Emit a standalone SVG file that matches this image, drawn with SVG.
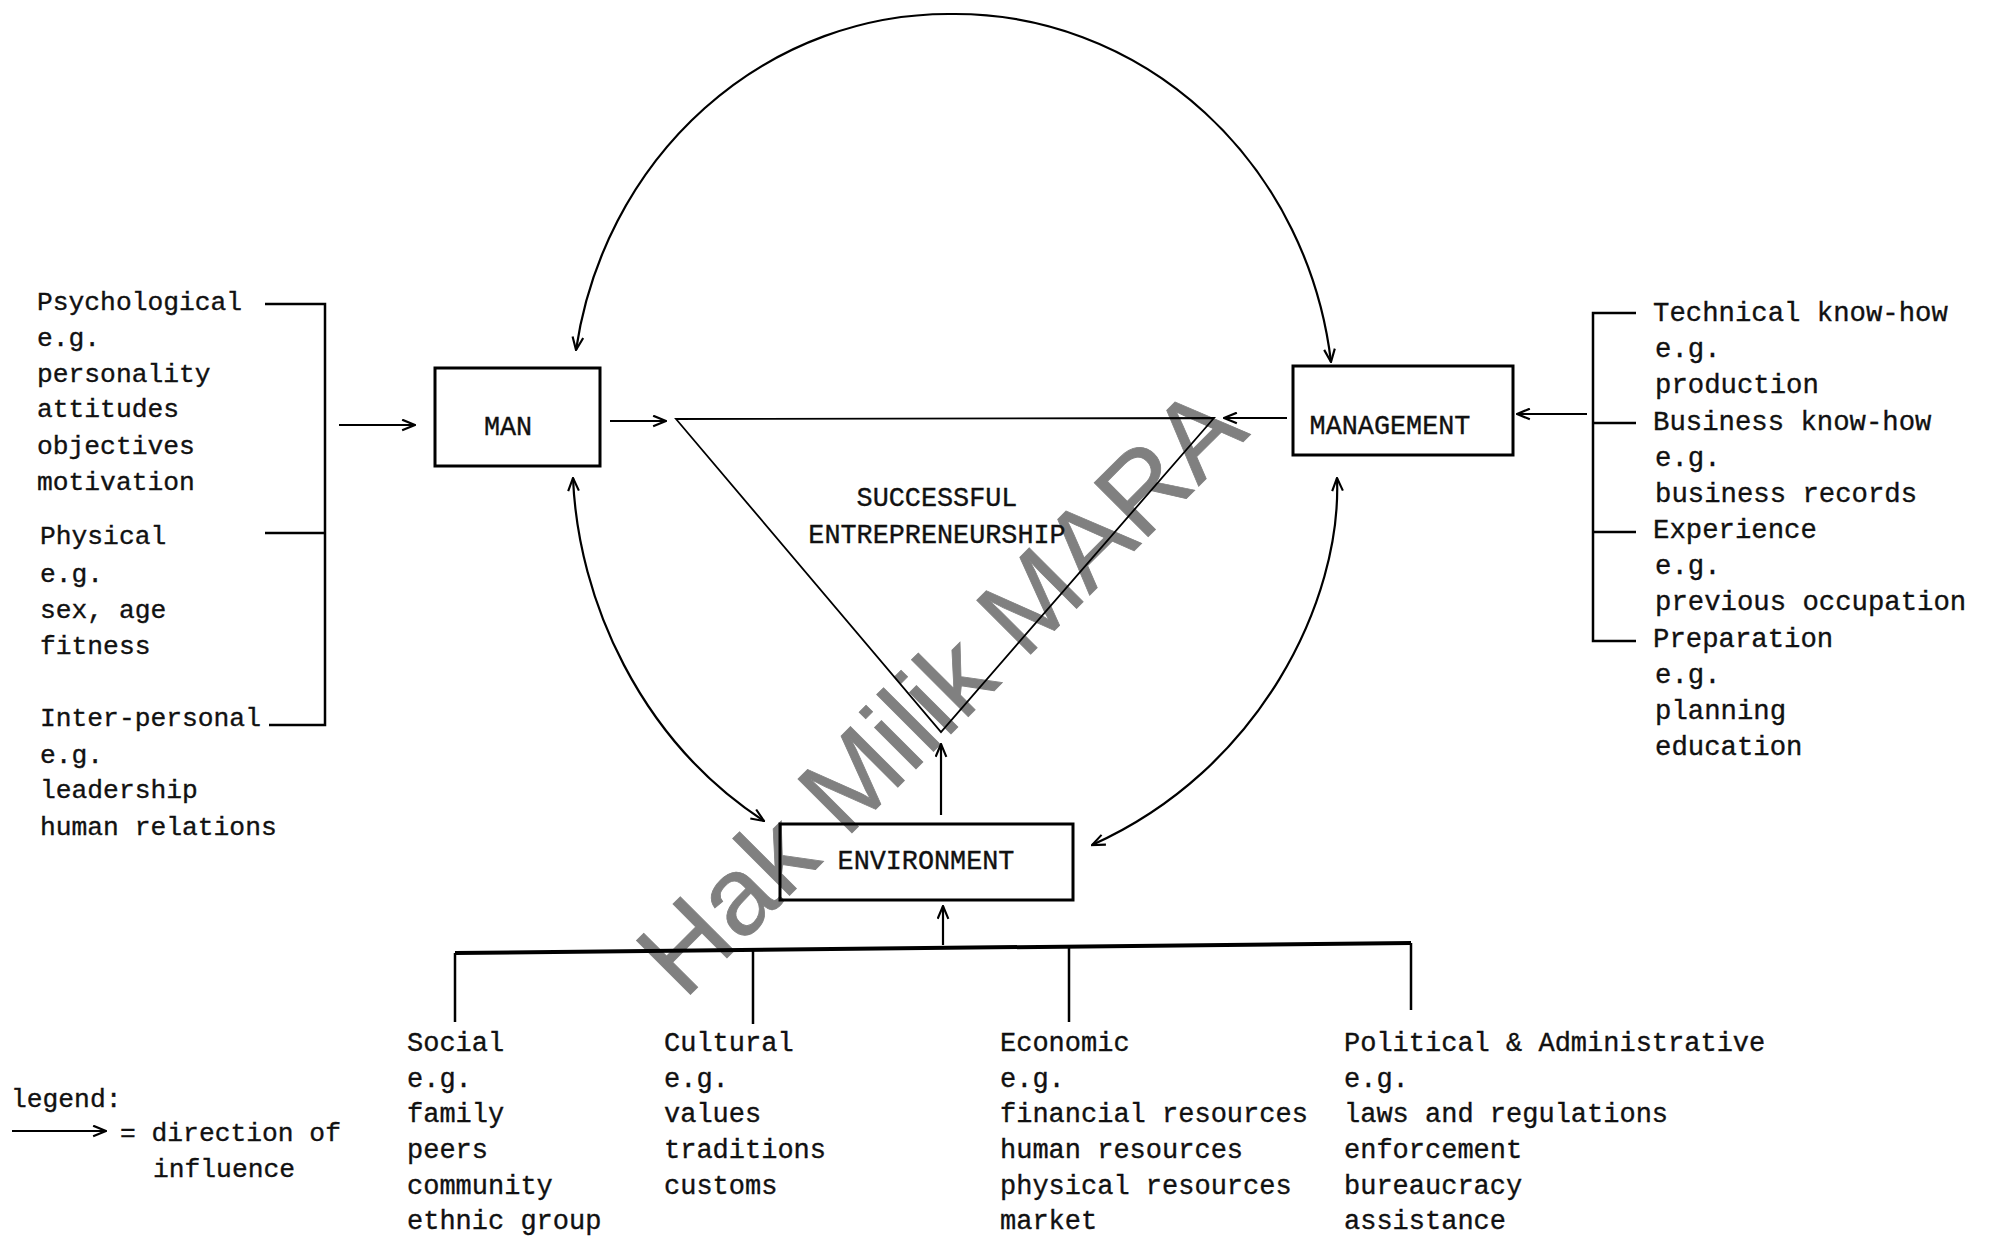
<svg xmlns="http://www.w3.org/2000/svg" width="1992" height="1240" viewBox="0 0 1992 1240">
<style>
text{font-family:"Liberation Mono","Courier New",monospace;fill:#111;stroke:#111;stroke-width:0.35}
.l{font-size:26.3px}
.r{font-size:27.3px}
.b{font-size:27px}
.lab{font-size:26.8px;text-anchor:middle}
.box{fill:none;stroke:#000;stroke-width:3}
.ln{fill:none;stroke:#000;stroke-width:2.5}
.thin{fill:none;stroke:#000;stroke-width:1.8}
.arr{fill:none;stroke:#000;stroke-width:2.2;marker-end:url(#ah)}
.dbl{fill:none;stroke:#000;stroke-width:2.2;marker-start:url(#ah);marker-end:url(#ah)}
.wm{font-family:"Liberation Sans",Arial,sans-serif;font-size:111px;fill:#808080;stroke:#808080;stroke-width:0.8}
</style>
<defs>
<marker id="ah" viewBox="0 0 14 12" refX="13" refY="6" markerWidth="15" markerHeight="13" orient="auto-start-reverse" markerUnits="userSpaceOnUse">
<path d="M1,1 L13,6 L1,11" fill="none" stroke="#000" stroke-width="2"/>
</marker>
</defs>
<rect width="1992" height="1240" fill="#fff"/>

<g id="watermark">
<text class="wm" transform="translate(684,1001) rotate(-45)">Hak Milik MARA</text>
</g>

<g id="connectors">
<!-- top arc MAN <-> MANAGEMENT -->
<path class="dbl" d="M576,350 A377,397 0 0 1 952,14 A379,397 0 0 1 1331,362"/>
<!-- MAN <-> ENVIRONMENT -->
<path class="dbl" d="M573,478 C578,600 640,740 764,821"/>
<!-- MANAGEMENT <-> ENVIRONMENT -->
<path class="dbl" d="M1337,478 C1342,600 1260,770 1092,845"/>
<!-- left inputs to MAN -->
<path class="arr" d="M339,425 L415,425"/>
<!-- MAN to triangle -->
<path class="arr" d="M610,421 L666,421"/>
<!-- MANAGEMENT to triangle -->
<path class="arr" d="M1287,418 L1224,418"/>
<!-- right inputs to MANAGEMENT -->
<path class="arr" d="M1587,414 L1517,414"/>
<!-- ENVIRONMENT to triangle -->
<path class="arr" d="M941,815 L941,744"/>
<!-- bottom inputs to ENVIRONMENT -->
<path class="arr" d="M943,945 L943,906"/>
<!-- left bracket -->
<path class="ln" d="M265,304 L325,304 L325,725 L269,725 M265,533 L325,533"/>
<!-- right bracket -->
<path class="ln" d="M1636,313 L1593,313 L1593,641 L1636,641 M1593,423 L1636,423 M1593,532 L1636,532"/>
<!-- bottom bracket -->
<path fill="none" stroke="#000" stroke-width="4" d="M455,953 L1411,943"/>
<path class="ln" d="M455,953 L455,1022 M753,950 L753,1024 M1069,947 L1069,1022 M1411,943 L1411,1010"/>
<!-- legend arrow -->
<path class="arr" d="M12,1131 L106,1131"/>
</g>

<g id="man">
<rect class="box" x="435" y="368" width="165" height="98"/>
<text class="lab" x="508" y="435">MAN</text>
</g>

<g id="management">
<rect class="box" x="1293" y="366" width="220" height="89"/>
<text class="lab" x="1390" y="434">MANAGEMENT</text>
</g>

<g id="environment">
<rect class="box" x="780" y="824" width="293" height="76"/>
<text class="lab" x="926" y="869">ENVIRONMENT</text>
</g>

<g id="successful-entrepreneurship">
<path class="thin" d="M676,419 L1214,418 L941,732 Z"/>
<text class="lab" x="937" y="506">SUCCESSFUL</text>
<text class="lab" x="937" y="543">ENTREPRENEURSHIP</text>
</g>

<g id="man-factors">
<text class="l" x="37" y="310">Psychological</text>
<text class="l" x="37" y="346">e.g.</text>
<text class="l" x="37" y="382">personality</text>
<text class="l" x="37" y="417">attitudes</text>
<text class="l" x="37" y="454">objectives</text>
<text class="l" x="37" y="490">motivation</text>
<text class="l" x="40" y="544">Physical</text>
<text class="l" x="40" y="582">e.g.</text>
<text class="l" x="40" y="618">sex, age</text>
<text class="l" x="40" y="654">fitness</text>
<text class="l" x="40" y="726">Inter-personal</text>
<text class="l" x="40" y="763">e.g.</text>
<text class="l" x="40" y="798">leadership</text>
<text class="l" x="40" y="835">human relations</text>
</g>

<g id="management-factors">
<text class="r" x="1653" y="321">Technical know-how</text>
<text class="r" x="1655" y="357">e.g.</text>
<text class="r" x="1655" y="393">production</text>
<text class="r" x="1653" y="430">Business know-how</text>
<text class="r" x="1655" y="466">e.g.</text>
<text class="r" x="1655" y="502">business records</text>
<text class="r" x="1653" y="538">Experience</text>
<text class="r" x="1655" y="574">e.g.</text>
<text class="r" x="1655" y="610">previous occupation</text>
<text class="r" x="1653" y="647">Preparation</text>
<text class="r" x="1655" y="683">e.g.</text>
<text class="r" x="1655" y="719">planning</text>
<text class="r" x="1655" y="755">education</text>
</g>

<g id="environment-factors">
<text class="b" x="407" y="1051">Social</text>
<text class="b" x="407" y="1087">e.g.</text>
<text class="b" x="407" y="1122">family</text>
<text class="b" x="407" y="1158">peers</text>
<text class="b" x="407" y="1194">community</text>
<text class="b" x="407" y="1229">ethnic group</text>
<text class="b" x="664" y="1051">Cultural</text>
<text class="b" x="664" y="1087">e.g.</text>
<text class="b" x="664" y="1122">values</text>
<text class="b" x="664" y="1158">traditions</text>
<text class="b" x="664" y="1194">customs</text>
<text class="b" x="1000" y="1051">Economic</text>
<text class="b" x="1000" y="1087">e.g.</text>
<text class="b" x="1000" y="1122">financial resources</text>
<text class="b" x="1000" y="1158">human resources</text>
<text class="b" x="1000" y="1194">physical resources</text>
<text class="b" x="1000" y="1229">market</text>
<text class="b" x="1344" y="1051">Political &amp; Administrative</text>
<text class="b" x="1344" y="1087">e.g.</text>
<text class="b" x="1344" y="1122">laws and regulations</text>
<text class="b" x="1344" y="1158">enforcement</text>
<text class="b" x="1344" y="1194">bureaucracy</text>
<text class="b" x="1344" y="1229">assistance</text>
</g>

<g id="legend">
<text class="l" x="11" y="1107">legend:</text>
<text class="l" x="120" y="1141">= direction of</text>
<text class="l" x="153" y="1177">influence</text>
</g>
</svg>
